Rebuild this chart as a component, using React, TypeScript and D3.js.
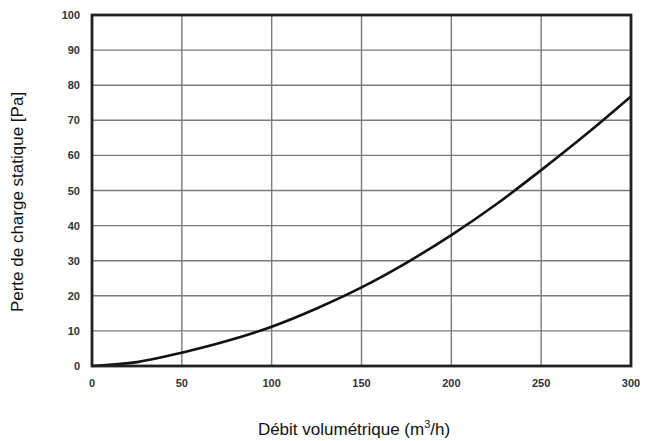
import { useEffect, useRef } from 'react';
import * as d3 from 'd3';

const flowRates = [0, 25, 50, 75, 100, 125, 150, 175, 200, 225, 250, 275, 300];
const pressureLoss = [0, 1.1, 3.8, 7.1, 11.2, 16.4, 22.4, 29.4, 37.3, 46.1, 55.8, 66.0, 76.8];
const xTicks = [0, 50, 100, 150, 200, 250, 300];
const yTicks = [0, 10, 20, 30, 40, 50, 60, 70, 80, 90, 100];

const W = 647;
const H = 441;

export default function App() {
  const svgRef = useRef<SVGSVGElement>(null);

  useEffect(() => {
    if (!svgRef.current) return;
    const svg = d3.select(svgRef.current);
    svg.selectAll('*').remove();

    const left = 92, right = 631, top = 15, bottom = 366;
    const x = d3.scaleLinear().domain([0, 300]).range([left, right]);
    const y = d3.scaleLinear().domain([0, 100]).range([bottom, top]);

    svg.append('rect').attr('width', W).attr('height', H).attr('fill', '#fff');

    const grid = svg.append('g').attr('stroke', '#7a7a7a').attr('stroke-width', 1.4);
    xTicks.slice(1, -1).forEach((t) => {
      grid.append('line').attr('x1', x(t)).attr('x2', x(t)).attr('y1', top).attr('y2', bottom);
    });
    yTicks.slice(1, -1).forEach((t) => {
      grid.append('line').attr('x1', left).attr('x2', right).attr('y1', y(t)).attr('y2', y(t));
    });

    const line = d3
      .line<number>()
      .x((_, i) => x(flowRates[i]))
      .y((d) => y(d))
      .curve(d3.curveMonotoneX);

    svg
      .append('path')
      .attr('d', line(pressureLoss))
      .attr('fill', 'none')
      .attr('stroke', '#111')
      .attr('stroke-width', 2.6);

    svg
      .append('rect')
      .attr('x', left)
      .attr('y', top)
      .attr('width', right - left)
      .attr('height', bottom - top)
      .attr('fill', 'none')
      .attr('stroke', '#222')
      .attr('stroke-width', 2.8);

    const font = '"Liberation Sans", Arial, sans-serif';
    svg
      .append('g')
      .selectAll('text')
      .data(yTicks)
      .join('text')
      .attr('x', left - 12)
      .attr('y', (d) => y(d) + 4)
      .attr('text-anchor', 'end')
      .attr('font-family', font)
      .attr('font-weight', 'bold')
      .attr('font-size', 11)
      .attr('fill', '#333')
      .text((d) => d);

    svg
      .append('g')
      .selectAll('text')
      .data(xTicks)
      .join('text')
      .attr('x', (d) => x(d))
      .attr('y', bottom + 21)
      .attr('text-anchor', 'middle')
      .attr('font-family', font)
      .attr('font-weight', 'bold')
      .attr('font-size', 11)
      .attr('fill', '#333')
      .text((d) => d);

    svg
      .append('text')
      .attr('x', 354)
      .attr('y', 435)
      .attr('text-anchor', 'middle')
      .attr('font-family', font)
      .attr('font-size', 17)
      .attr('fill', '#111')
      .html('Débit volumétrique (m<tspan dy="-7" font-size="11">3</tspan><tspan dy="7">/h)</tspan>');

    svg
      .append('text')
      .attr('transform', `translate(23, 202) rotate(-90)`)
      .attr('text-anchor', 'middle')
      .attr('font-family', font)
      .attr('font-size', 17)
      .attr('fill', '#111')
      .text('Perte de charge statique [Pa]');
  }, []);

  return (
    <svg
      ref={svgRef}
      width={W}
      height={H}
      style={{ position: 'absolute', left: 0, top: 0, display: 'block' }}
    />
  );
}
